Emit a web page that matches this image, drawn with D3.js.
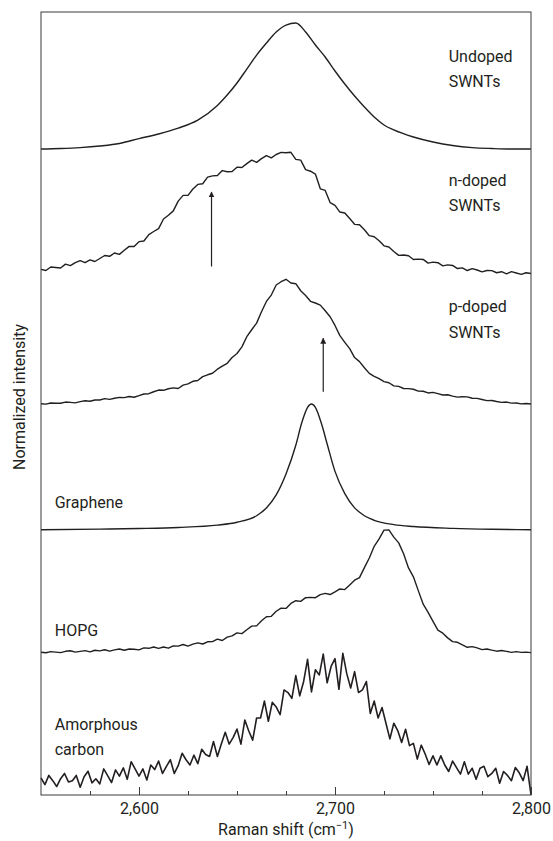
<!DOCTYPE html>
<html>
<head>
<meta charset="utf-8">
<script src="https://cdn.jsdelivr.net/npm/d3@7"></script>
<style>
  body { margin: 0; background: #fff; }
  svg text { font-family: 'Liberation Sans Narrow', 'Roboto', sans-serif; fill: #231f20; }
</style>
</head>
<body>
<div id="graph"></div>
<script>
/* eslint-disable no-undef */
const width = 553
const height = 841
const margin = { top: 12, right: 22, bottom: 46, left: 41 }

// Raman shift (cm-1) sample positions
const step2 = d3.range(2550, 2800.01, 2)
const step25 = d3.range(2550, 2800.01, 2.5)

// Smooth spectra
const undopedShift = [2550, 2560, 2570, 2580, 2590, 2600, 2610, 2620, 2630, 2640, 2645, 2650, 2655, 2660, 2665, 2670, 2675, 2680, 2685, 2690, 2695, 2700, 2705, 2710, 2715, 2720, 2725, 2730, 2740, 2750, 2760, 2770, 2780, 2790, 2800]
const undopedValues = [0, 0.004, 0.011, 0.023, 0.042, 0.08, 0.115, 0.16, 0.222, 0.334, 0.414, 0.506, 0.613, 0.72, 0.812, 0.897, 0.95, 0.966, 0.897, 0.797, 0.705, 0.598, 0.498, 0.406, 0.322, 0.245, 0.184, 0.146, 0.092, 0.054, 0.027, 0.011, 0.004, 0, 0]

const grapheneShift = [2550, 2580, 2600, 2620, 2640, 2650, 2660, 2665, 2670, 2675, 2680, 2683, 2686, 2688, 2690, 2693, 2696, 2700, 2705, 2710, 2715, 2720, 2730, 2740, 2760, 2780, 2800]
const grapheneValues = [0.003, 0.007, 0.012, 0.02, 0.038, 0.06, 0.11, 0.17, 0.27, 0.43, 0.65, 0.82, 0.94, 0.966, 0.94, 0.82, 0.66, 0.45, 0.28, 0.17, 0.11, 0.075, 0.042, 0.027, 0.013, 0.006, 0.003]

// Noisy spectra, sampled every 2.5 cm-1
const nDopedValues = [
  0.048, 0.039, 0.066, 0.062, 0.058, 0.088, 0.077, 0.099, 0.115, 0.099,
  0.12, 0.108, 0.131, 0.154, 0.148, 0.173, 0.163, 0.194, 0.224, 0.223,
  0.26, 0.265, 0.314, 0.338, 0.36, 0.434, 0.463, 0.496, 0.571, 0.615,
  0.615, 0.664, 0.699, 0.704, 0.755, 0.764, 0.767, 0.805, 0.796, 0.797,
  0.831, 0.828, 0.858, 0.885, 0.868, 0.896, 0.919, 0.902, 0.928, 0.944,
  0.942, 0.945, 0.891, 0.885, 0.812, 0.8, 0.778, 0.665, 0.653, 0.56,
  0.538, 0.487, 0.48, 0.437, 0.393, 0.39, 0.351, 0.306, 0.298, 0.267,
  0.228, 0.219, 0.185, 0.155, 0.158, 0.152, 0.123, 0.126, 0.124, 0.096,
  0.103, 0.099, 0.075, 0.082, 0.078, 0.054, 0.059, 0.039, 0.053, 0.043,
  0.029, 0.039, 0.038, 0.022, 0.03, 0.014, 0.03, 0.02, 0.01, 0.022,
  0.016
]

const pDopedValues = [
  0.008, 0.005, 0.014, 0.012, 0.012, 0.021, 0.019, 0.015, 0.024, 0.031,
  0.027, 0.037, 0.037, 0.047, 0.042, 0.05, 0.057, 0.055, 0.064, 0.058,
  0.07, 0.083, 0.085, 0.1, 0.113, 0.111, 0.123, 0.13, 0.125, 0.151,
  0.16, 0.18, 0.186, 0.216, 0.23, 0.242, 0.273, 0.296, 0.318, 0.362,
  0.393, 0.444, 0.522, 0.575, 0.626, 0.713, 0.792, 0.841, 0.918, 0.943,
  0.962, 0.933, 0.928, 0.874, 0.838, 0.793, 0.78, 0.764, 0.721, 0.675,
  0.608, 0.53, 0.479, 0.43, 0.362, 0.331, 0.284, 0.241, 0.218, 0.2,
  0.178, 0.169, 0.145, 0.141, 0.125, 0.124, 0.119, 0.105, 0.104, 0.091,
  0.095, 0.086, 0.075, 0.077, 0.067, 0.059, 0.062, 0.061, 0.05, 0.049,
  0.041, 0.032, 0.033, 0.025, 0.019, 0.021, 0.013, 0.014, 0.007, 0.01,
  0.006
]

const hopgValues = [
  0.004, 0, 0.009, 0.005, 0.001, 0.011, 0.015, 0.005, 0.011, 0.016,
  0.007, 0.019, 0.014, 0.023, 0.012, 0.022, 0.029, 0.019, 0.029, 0.027,
  0.022, 0.037, 0.034, 0.044, 0.033, 0.044, 0.035, 0.053, 0.051, 0.063,
  0.051, 0.066, 0.076, 0.067, 0.084, 0.085, 0.104, 0.094, 0.12, 0.129,
  0.152, 0.147, 0.176, 0.204, 0.206, 0.245, 0.276, 0.279, 0.318, 0.342,
  0.34, 0.378, 0.399, 0.394, 0.422, 0.424, 0.422, 0.445, 0.455, 0.446,
  0.466, 0.489, 0.484, 0.52, 0.556, 0.576, 0.652, 0.726, 0.816, 0.872,
  0.94, 0.941, 0.886, 0.842, 0.758, 0.65, 0.582, 0.476, 0.372, 0.31,
  0.241, 0.174, 0.15, 0.114, 0.085, 0.08, 0.06, 0.042, 0.047, 0.037,
  0.024, 0.029, 0.02, 0.012, 0.017, 0.011, 0.003, 0.009, 0.003, 0.005,
  0.001
]

// Amorphous carbon, sampled every 2 cm-1
const amorphousValues = [
  0.03, -0.02, 0.05, 0.01, -0.035, 0.025, 0.065, 0, 0.01, 0.05,
  -0.04, 0.04, 0.082, -0.007, 0.024, -0.015, 0.1, 0.048, -0.005, 0.092,
  0.045, 0.108, 0.02, 0.155, 0.1, 0.045, 0.1, 0.015, 0.13, 0.095,
  0.16, 0.065, 0.12, 0.17, 0.065, 0.125, 0.22, 0.17, 0.13, 0.205,
  0.14, 0.25, 0.21, 0.195, 0.31, 0.195, 0.29, 0.38, 0.29, 0.34,
  0.405, 0.29, 0.475, 0.39, 0.32, 0.49, 0.49, 0.62, 0.465, 0.61,
  0.575, 0.515, 0.705, 0.685, 0.64, 0.815, 0.66, 0.77, 0.94, 0.69,
  0.86, 0.82, 0.98, 0.76, 0.885, 0.945, 0.71, 0.985, 0.83, 0.72,
  0.845, 0.685, 0.705, 0.77, 0.525, 0.62, 0.49, 0.57, 0.45, 0.33,
  0.45, 0.394, 0.302, 0.404, 0.278, 0.296, 0.175, 0.282, 0.214, 0.134,
  0.2, 0.13, 0.2, 0.13, 0.08, 0.16, 0.11, 0.06, 0.155, 0.06,
  0.105, 0.02, 0.105, 0.12, 0.04, 0.065, 0.105, -0.01, 0.08, 0.05,
  0.01, 0.11, 0.07, 0.01, 0.12, -0.1
]

// vertical offsets of each trace (stacked, normalized units)
const offsets = [4.95, 3.98, 2.99, 2.03, 1.09, 0.1]

const spectra = [
  { name: 'undoped', shift: undopedShift, values: undopedValues, offset: offsets[0], smooth: true },
  { name: 'n-doped', shift: step25, values: nDopedValues, offset: offsets[1] },
  { name: 'p-doped', shift: step25, values: pDopedValues, offset: offsets[2] },
  { name: 'graphene', shift: grapheneShift, values: grapheneValues, offset: offsets[3], smooth: true },
  { name: 'hopg', shift: step25, values: hopgValues, offset: offsets[4] },
  { name: 'amorphous', shift: step2, values: amorphousValues, offset: offsets[5] }
]

const labels = [
  { lines: ['Undoped', 'SWNTs'], shift: 2758, level: 5.62 },
  { lines: ['n-doped', 'SWNTs'], shift: 2758, level: 4.67 },
  { lines: ['p-doped', 'SWNTs'], shift: 2758, level: 3.7 },
  { lines: ['Graphene'], shift: 2557, level: 2.2 },
  { lines: ['HOPG'], shift: 2557, level: 1.22 },
  { lines: ['Amorphous', 'carbon'], shift: 2557, level: 0.5 }
]

// arrows marking the doping-induced components
const arrows = [
  { shift: 2637, from: 4.05, to: 4.62 },
  { shift: 2694, from: 3.09, to: 3.5 }
]

const xTicks = [2600, 2700, 2800]
const xMinorTicks = [2575, 2625, 2650, 2675, 2725, 2750, 2775]

const svg = d3.select('#graph').append('svg')
  .attr('width', width)
  .attr('height', height)

const xScale = d3.scaleLinear().domain([2550, 2800]).range([margin.left, width - margin.right])
const yScale = d3.scaleLinear().domain([0, 6]).range([height - margin.bottom, margin.top])

svg.append('defs').append('marker')
  .attr('id', 'head')
  .attr('viewBox', '0 0 10 10')
  .attr('refX', 9)
  .attr('refY', 5)
  .attr('markerWidth', 6)
  .attr('markerHeight', 8)
  .attr('markerUnits', 'userSpaceOnUse')
  .attr('orient', 'auto')
  .append('path')
  .attr('d', 'M0,0L10,5L0,10Z')
  .attr('fill', '#231f20')

const plot = svg.append('g')

spectra.forEach((s) => {
  const line = d3.line()
    .x((d, i) => xScale(s.shift[i]))
    .y((d) => yScale(s.offset + d))
    .curve(s.smooth ? d3.curveMonotoneX : d3.curveLinear)
  plot.append('path')
    .datum(s.values)
    .attr('class', s.name)
    .attr('fill', 'none')
    .attr('stroke', '#231f20')
    .attr('stroke-width', s.name === 'amorphous' ? 1.6 : 1.4)
    .attr('stroke-linejoin', 'round')
    .attr('d', line)
})

plot.selectAll('line.arrow').data(arrows).join('line')
  .attr('class', 'arrow')
  .attr('x1', (d) => xScale(d.shift))
  .attr('x2', (d) => xScale(d.shift))
  .attr('y1', (d) => yScale(d.from))
  .attr('y2', (d) => yScale(d.to))
  .attr('stroke', '#231f20')
  .attr('stroke-width', 1.2)
  .attr('marker-end', 'url(#head)')

const label = plot.selectAll('text.label').data(labels).join('text')
  .attr('class', 'label')
  .attr('x', (d) => xScale(d.shift))
  .attr('y', (d) => yScale(d.level))
  .attr('font-size', 16)
label.selectAll('tspan').data((d) => d.lines).join('tspan')
  .attr('x', function () { return d3.select(this.parentNode).attr('x') })
  .attr('dy', (d, i) => i === 0 ? 0 : '1.6em')
  .text((d) => d)

// frame
svg.append('rect')
  .attr('x', margin.left)
  .attr('y', margin.top)
  .attr('width', width - margin.left - margin.right)
  .attr('height', height - margin.top - margin.bottom)
  .attr('fill', 'none')
  .attr('stroke', '#3a3a3a')
  .attr('stroke-width', 1)

// x axis
const xAxis = svg.append('g')
  .attr('transform', `translate(0,${height - margin.bottom})`)
  .call(d3.axisBottom(xScale).tickValues(xTicks).tickSize(-8).tickPadding(8).tickFormat(d3.format(',')))
xAxis.select('.domain').remove()
xAxis.selectAll('text').attr('font-size', 16).attr('font-family', null)
xAxis.selectAll('line').attr('stroke', '#3a3a3a')

const xMinor = svg.append('g')
  .attr('transform', `translate(0,${height - margin.bottom})`)
  .call(d3.axisBottom(xScale).tickValues(xMinorTicks).tickSize(-4).tickFormat(''))
xMinor.select('.domain').remove()
xMinor.selectAll('line').attr('stroke', '#3a3a3a')

const xTitle = svg.append('text')
  .attr('x', xScale(2675))
  .attr('y', 835)
  .attr('text-anchor', 'middle')
  .attr('font-size', 16)
xTitle.append('tspan').text('Raman shift (cm')
xTitle.append('tspan').attr('font-size', 11).attr('dy', -6).text('\u22121')
xTitle.append('tspan').attr('dy', 6).text(')')

svg.append('text')
  .attr('transform', `translate(25,${yScale(3.05)}) rotate(-90)`)
  .attr('text-anchor', 'middle')
  .attr('font-size', 16)
  .text('Normalized intensity')
</script>
</body>
</html>
